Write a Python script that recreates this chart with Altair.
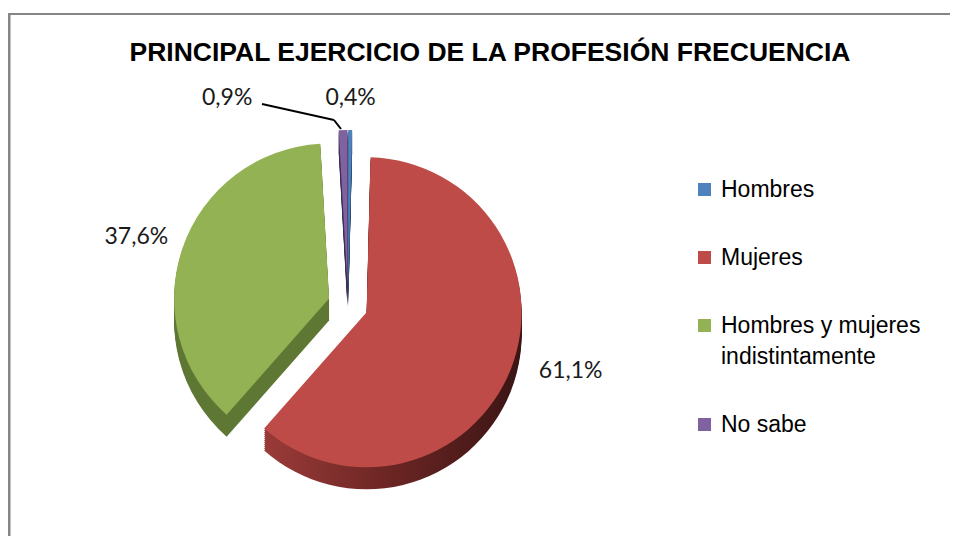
import altair as alt
import pandas as pd

categories = ["Hombres", "Mujeres", "Hombres y mujeres indistintamente", "No sabe"]
values = [0.4, 61.1, 37.6, 0.9]
labels = ["0,4%", "61,1%", "37,6%", "0,9%"]
order = [0, 1, 2, 3]
top_colors = ["#4F81BD", "#BE4B48", "#92B254", "#7F63A1"]
side_colors = ["#2E4C70", "#6A2422", "#5F7835", "#3F3053"]
title_text = "PRINCIPAL EJERCICIO DE LA PROFESIÓN FRECUENCIA"

df = pd.DataFrame({"cat": categories, "value": values, "label": labels, "order": order})

W, H = 680, 462
R = 155
E = 20
DEPTH = 22

red_side = {
    "gradient": "linear",
    "x1": 0, "x2": 1, "y1": 0, "y2": 0,
    "stops": [
        {"offset": 0, "color": "#9A3B38"},
        {"offset": 0.5, "color": "#6A2523"},
        {"offset": 1, "color": "#3A1514"},
    ],
}


def base():
    return (
        alt.Chart(df)
        .transform_joinaggregate(total="sum(value)")
        .transform_window(cum="sum(value)", sort=[alt.SortField("order")])
        .transform_calculate(mid="(datum.cum - datum.value/2) / datum.total * 2 * PI")
        .transform_calculate(dx=f"{E} * sin(datum.mid)", dy=f"{-E} * cos(datum.mid)")
    )


theta = alt.Theta("value:Q", stack=True)
ordr = alt.Order("order:Q")

layers = []
for k in range(DEPTH, 0, -2):
    layers.append(
        base()
        .mark_arc(outerRadius=R, xOffset=alt.expr("datum.dx"), yOffset=alt.expr(f"datum.dy + {k}"))
        .encode(
            theta=theta,
            order=ordr,
            color=alt.condition(
                "datum.cat == 'Mujeres'",
                alt.value(red_side),
                alt.Color("cat:N", scale=alt.Scale(domain=categories, range=side_colors), legend=None),
            ),
        )
    )

top = (
    base()
    .mark_arc(outerRadius=R, xOffset=alt.expr("datum.dx"), yOffset=alt.expr("datum.dy"))
    .encode(
        theta=theta,
        order=ordr,
        color=alt.Color(
            "cat:N",
            scale=alt.Scale(domain=categories, range=top_colors),
            sort=categories,
            legend=alt.Legend(
                title=None,
                orient="none",
                legendX=685,
                legendY=104,
                symbolType="square",
                symbolSize=169,
                symbolStrokeWidth=0,
                labelFont="Liberation Sans",
                labelFontSize=23,
                labelColor="black",
                labelLimit=400,
                labelOffset=5,
                rowPadding=44,
                labelExpr="datum.label == 'Hombres y mujeres indistintamente' ? ['Hombres y mujeres', 'indistintamente'] : datum.label",
            ),
        ),
    )
)

text = (
    base()
    .mark_text(
        radius=R + 32,
        font="Lato",
        fontSize=23,
        color="#1a1a1a",
        xOffset=alt.expr(
            "datum.dx + (datum.cat == 'No sabe' ? -115 : datum.cat == 'Mujeres' ? 30 : datum.cat == 'Hombres y mujeres indistintamente' ? -16 : 0)"
        ),
        yOffset=alt.expr("datum.dy + (datum.cat == 'Mujeres' ? -10 : 0)"),
    )
    .encode(theta=theta, order=ordr, text="label:N")
)

one = pd.DataFrame({"t": [title_text]})
title = alt.Chart(one).mark_text(
    font="Liberation Sans", fontSize=26.5, fontWeight="bold", color="black",
    align="center", baseline="alphabetic",
).encode(text="t:N", x=alt.value(482), y=alt.value(-13))

leader1 = alt.Chart(one).mark_rule(color="black", strokeWidth=2).encode(
    x=alt.value(254), y=alt.value(30), x2=alt.value(326), y2=alt.value(46)
)
leader2 = alt.Chart(one).mark_rule(color="black", strokeWidth=2).encode(
    x=alt.value(326), y=alt.value(46), x2=alt.value(333), y2=alt.value(55)
)
frame_v = alt.Chart(one).mark_rule(color="#868686", strokeWidth=3).encode(
    x=alt.value(1), y=alt.value(-60), x2=alt.value(1), y2=alt.value(H)
)
frame_h = alt.Chart(one).mark_rule(color="#868686", strokeWidth=2).encode(
    x=alt.value(0), y=alt.value(-60), x2=alt.value(942), y2=alt.value(-60)
)

chart = (
    alt.layer(*layers, top, text, title, leader1, leader2, frame_v, frame_h)
    .resolve_scale(color="independent")
    .properties(
        width=W,
        height=H,
        padding={"left": 0, "top": 66, "right": 262, "bottom": 0},
        autosize=alt.AutoSizeParams(type="none"),
    )
    .configure(
        background="white",
        view=alt.ViewConfig(stroke=None),
        style={"guide-label": {"lineHeight": 31}},
    )
)

chart.save("out.html", embed_options={"renderer": "svg", "actions": False})
